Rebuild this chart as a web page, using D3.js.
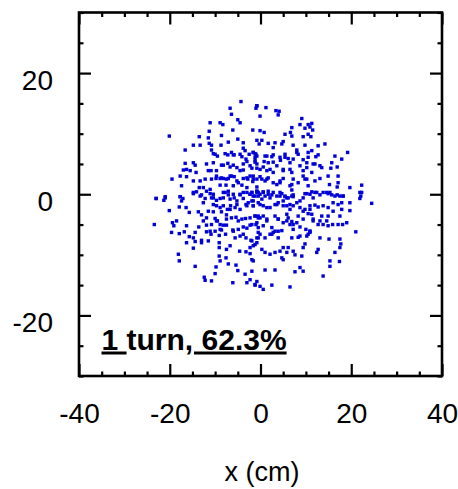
<!DOCTYPE html>
<html><head><meta charset="utf-8">
<script src="https://cdn.jsdelivr.net/npm/d3@7"></script>
<style>html,body{margin:0;padding:0;background:#fff}svg{display:block}</style>
</head><body>
<script>
// ---- data ----
const xMajorTicks = [-40, -20, 0, 20, 40];
const yMajorTicks = [-20, 0, 20];
const xDomain = [-40, 40];
const yDomain = [-30, 30];
const xTitle = "x (cm)";
const labelParts = [["1 ", true], ["turn", false], [", 62.3%", true]];
// particle positions (cm)
const points = [
[-4.3,15.3],[-0.8,14.6],[-6.7,14.2],[-6.4,13.2],[-5.0,12.3],[-4.5,11.8],[-11.1,11.8],[-8.9,11.8],[-8.3,11.5],[-20.1,9.6],[-13.5,9.5],[-11.3,10.4],[-8.6,9.7],[-6.1,10.6],[-5.0,9.1],[-11.5,9.3],[-11.3,8.4],[-7.1,8.6],[-3.8,8.5],[-14.8,8.1],[-13.3,8.1],[-10.8,8.1],[-8.7,8.1],[-16.6,7.3],[-10.8,7.3],[-10.4,6.7],[-9.5,6.3],[-7.2,6.5],[-6.4,6.9],[-5.8,6.5],[-4.5,6.6],[-3.8,7.6],[-3.4,7.2],[-1.6,6.9],[-0.8,6.3],[-1.2,5.6],[-3.2,5.8],[-3.0,5.4],[-16.6,5.1],[-14.8,5.2],[-14.4,4.8],[-16.3,4.1],[-17.0,4.0],[-15.5,3.9],[-14.2,3.6],[-11.5,3.9],[-10.9,3.9],[-9.7,3.9],[-8.2,4.8],[-7.2,5.1],[-6.0,4.8],[-4.5,3.9],[-3.8,4.0],[-0.8,4.3],[-19.5,2.5],[-17.7,3.0],[-16.3,2.9],[-14.8,2.2],[-13.3,2.2],[-12.2,2.5],[-10.8,2.5],[-9.8,2.6],[-8.9,2.6],[-8.2,2.6],[-7.1,2.6],[-6.7,3.0],[-5.8,2.9],[-5.2,2.2],[-3.8,2.6],[-2.8,2.5],[-2.3,3.0],[-1.7,2.1],[-17.4,1.4],[-13.5,1.1],[-12.6,1.1],[-11.1,0.8],[-8.9,1.5],[-7.6,1.5],[-6.0,1.4],[-4.1,1.5],[-3.0,1.1],[-0.8,1.2],[-23.0,-0.7],[-21.0,-0.6],[-17.7,-0.4],[-14.8,0.3],[-13.0,-0.1],[-10.8,-0.6],[-8.2,-0.6],[-7.1,0.5],[-4.5,0.0],[-1.9,0.3],[-0.5,-0.3],
[-0.8,14.6],[-1.0,14.2],[1.2,14.3],[3.4,13.8],[4.1,13.7],[3.9,13.1],[-0.1,12.9],[9.1,12.5],[8.7,11.5],[10.5,11.5],[11.3,11.7],[10.9,11.1],[6.9,11.0],[9.8,10.9],[-1.7,10.6],[-0.1,10.5],[0.8,10.2],[5.4,9.9],[6.6,10.2],[6.9,9.6],[11.5,10.6],[10.5,9.9],[9.4,9.5],[11.1,9.5],[-0.8,8.9],[0.3,8.9],[-0.3,8.3],[1.7,8.4],[3.2,8.5],[5.0,8.7],[4.7,8.3],[7.2,8.1],[9.8,8.1],[12.7,8.0],[14.2,8.3],[2.8,7.7],[8.0,7.3],[11.3,7.2],[10.5,6.9],[19.2,6.9],[-1.6,6.9],[-1.0,6.6],[-1.2,6.1],[1.4,6.3],[2.8,6.5],[5.4,6.6],[5.4,6.1],[8.3,6.6],[12.7,6.5],[16.4,6.3],[17.9,5.8],[15.7,5.2],[7.2,5.8],[9.4,5.7],[10.2,5.2],[12.0,5.0],[13.1,4.7],[0.8,5.4],[1.7,5.2],[2.8,5.3],[4.4,5.6],[6.5,5.2],[-1.2,5.3],[-1.9,4.3],[-0.1,4.1],[1.4,3.9],[2.8,3.6],[5.0,4.1],[6.9,3.6],[9.4,3.9],[11.3,3.6],[13.5,4.4],[15.5,4.3],[16.9,4.5],[14.9,3.0],[17.1,3.0],[13.1,2.6],[12.0,2.2],[9.4,3.0],[9.8,2.5],[7.2,2.5],[5.0,2.6],[4.3,1.9],[1.7,2.7],[1.0,2.2],[0.3,2.5],[-1.6,3.0],[-0.8,2.5],[22.3,1.5],[19.7,1.1],[17.1,1.9],[16.9,1.2],[15.2,1.6],[10.5,1.4],[6.5,1.4],[3.6,1.6],[-0.8,0.5],[-0.1,0.0],[1.7,0.5],[4.3,0.3],[5.4,-0.4],[6.9,0.7],[9.8,0.1],[12.4,0.3],[14.6,0.3],[15.7,-0.1],[16.9,-0.1],[18.2,-0.3],[22.3,0.3],[11.6,-0.6],
[-23.0,-0.7],[-21.0,-0.4],[-21.3,-1.0],[-17.7,-0.4],[-17.1,-0.7],[-17.4,-1.1],[-14.8,0.1],[-14.1,0.4],[-13.3,-0.3],[-12.2,-0.7],[-12.6,-1.4],[-11.1,0.1],[-10.4,-0.6],[-9.7,-1.0],[-8.9,-0.7],[-7.8,0.3],[-7.1,-0.1],[-6.7,-0.8],[-5.8,-0.6],[-5.2,-1.1],[-4.5,-0.1],[-3.8,-0.7],[-3.0,0.3],[-2.3,0.0],[-1.6,-0.3],[-0.8,0.3],
[-17.9,-2.1],[-16.4,-2.2],[-20.1,-2.7],[-15.7,-3.0],[-13.7,-2.9],[-11.5,-2.8],[-10.4,-2.9],[-9.7,-1.9],[-8.2,-1.9],[-7.3,-2.5],[-6.6,-1.9],[-5.6,-2.2],[-4.5,-2.5],[-3.2,-1.7],[-2.7,-1.4],[-1.6,-1.9],[-8.6,-2.9],[-7.5,-3.4],[-13.0,-3.4],[-12.6,-4.4],[-10.8,-5.0],[-11.9,-5.1],[-10.0,-4.0],[-9.5,-4.4],[-8.9,-5.0],[-8.2,-5.1],[-7.5,-5.1],[-6.4,-3.9],[-5.4,-3.8],[-4.1,-4.1],[-3.3,-4.0],[-1.2,-3.6],[-0.5,-3.9],
[-23.4,-5.0],[-19.4,-4.7],[-18.5,-4.4],[-19.1,-5.2],[-16.3,-5.2],[-13.6,-5.4],[-6.1,-5.9],[-4.9,-5.8],[-3.8,-5.4],[-3.0,-5.6],[-2.3,-5.1],[-1.0,-5.0],[-16.8,-6.2],[-17.9,-6.5],[-19.6,-6.3],[-14.4,-6.3],[-15.7,-7.0],[-14.8,-7.2],[-11.9,-6.2],[-10.9,-6.6],[-10.0,-6.1],[-9.1,-6.8],[-8.6,-5.9],[-7.7,-6.6],[-5.6,-7.2],[-4.5,-6.9],[-3.2,-7.2],[-2.1,-7.6],[-1.2,-8.3],[-0.5,-7.2],
[-16.3,-8.0],[-14.4,-7.8],[-13.0,-8.0],[-11.5,-7.7],[-14.8,-8.9],[-13.0,-7.6],[-9.1,-8.0],[-9.1,-8.8],[-7.5,-9.1],[-6.7,-8.5],[-4.6,-9.4],[-3.2,-9.5],[-2.3,-9.8],[-18.1,-9.9],[-17.9,-11.0],[-9.1,-10.2],[-8.9,-11.0],[-7.6,-10.5],[-7.1,-11.5],[-5.4,-11.7],[-5.0,-12.6],[-1.9,-10.8],[-14.4,-11.9],[-9.8,-12.0],[-10.0,-13.1],[-1.9,-12.7],[-3.4,-13.2],[-12.4,-13.7],[-12.2,-14.2],[-10.8,-14.3],[-6.1,-14.6],[-3.0,-14.6],[-1.2,-15.0],[-0.8,-14.4],
[-1.9,0.3],[-1.2,-0.3],[-0.5,0.3],[0.6,0.4],[1.0,-0.3],[1.7,0.0],[2.5,-0.1],[2.8,0.3],[3.6,-0.3],[4.7,0.1],[5.4,-0.3],[6.1,-0.6],[6.9,-0.3],[7.2,-0.1],
[9.4,-0.6],[10.2,0.1],[11.3,0.4],[12.0,0.3],[13.1,-0.1],[13.8,0.3],[14.9,0.1],[15.3,0.3],[16.4,-0.3],[17.5,-0.3],[18.2,-0.3],[21.9,0.3],[22.1,-0.3],[21.9,-0.7],
[-1.9,-1.1],[-1.6,-1.9],[-0.5,-1.4],[0.3,-0.8],[0.6,-1.9],[2.1,-2.2],[3.2,-1.7],[3.9,-1.4],[5.0,-1.1],[5.8,-1.9],[6.5,-1.7],[7.2,-1.9],[8.0,-1.4],
[9.4,-2.8],[10.9,-1.9],[12.0,-1.8],[12.7,-2.1],[13.8,-1.9],[14.9,-2.2],[16.0,-1.4],[17.1,-1.7],[17.9,-1.4],[19.7,-1.4],[24.5,-1.5],
[-1.2,-3.6],[-0.1,-3.9],[0.6,-3.6],[1.4,-4.1],[3.2,-3.6],[3.9,-4.1],[5.8,-3.3],[6.1,-3.9],[8.3,-3.6],[9.8,-2.5],[10.5,-3.2],[11.3,-3.3],[11.6,-4.1],[13.1,-4.4],[13.5,-3.6],[14.6,-4.4],[14.9,-3.6],[16.0,-2.8],[17.5,-3.6],[17.9,-2.5],[19.7,-2.7],
[-1.9,-5.0],[-0.8,-4.7],[-0.5,-5.5],[0.6,-5.2],[2.5,-5.5],[3.2,-6.1],[4.7,-6.0],[5.0,-4.7],[6.5,-5.0],[6.9,-4.5],[8.0,-4.7],[8.7,-5.4],[10.0,-5.8],[10.9,-6.1],[10.5,-6.6],
[12.7,-5.0],[13.8,-5.0],[14.9,-5.2],[15.9,-5.0],[17.1,-5.0],[18.1,-5.0],[19.0,-4.7],[21.0,-6.2],
[-1.9,-7.7],[-0.8,-7.2],[-0.1,-6.6],[1.0,-7.2],[2.5,-6.6],[2.8,-6.3],[3.9,-7.2],[6.9,-7.2],[8.3,-7.1],[9.8,-8.2],[10.2,-6.9],[10.9,-6.3],[13.1,-7.2],[15.1,-7.4],[17.5,-7.4],[17.7,-8.2],
[-2.3,-8.8],[-1.6,-8.5],[-0.8,-8.0],[0.3,-9.1],[1.0,-9.6],[2.1,-9.9],[3.2,-9.6],[4.3,-9.4],[5.0,-8.8],[6.1,-8.8],[7.2,-9.4],[9.4,-8.8],[12.7,-9.1],[12.4,-9.6],[16.4,-9.6],[17.5,-8.8],
[-1.6,-11.0],[1.0,-12.5],[3.2,-12.5],[4.7,-10.5],[5.8,-9.6],[5.0,-10.8],[7.6,-10.0],[9.1,-10.2],[7.6,-12.8],[8.7,-12.1],[9.4,-12.7],[15.3,-11.0],[15.3,-11.9],[17.4,-11.1],[13.8,-13.5],[-2.3,-14.1],[-1.2,-14.9],[-0.1,-15.2],[0.6,-15.7],[2.5,-15.0],[6.5,-15.3],
[-10.0,6.6],[-7.8,6.7],[-6.0,6.5],[-4.1,6.2],[-2.5,6.6],[-1.2,6.7],[1.0,6.3],[2.5,6.2],[4.3,6.1],[6.1,5.9],[8.0,6.9],[10.5,6.1],[12.2,6.2],
[-11.9,5.0],[-10.4,5.2],[-8.6,4.8],[-6.7,4.5],[-5.2,4.4],[-3.8,5.0],[-2.3,4.7],[-0.8,5.0],[0.6,4.5],[2.1,4.1],[3.6,4.7],[5.0,3.9],[6.5,4.1],[8.7,4.7],[10.2,4.4],[11.6,5.0],
[-9.7,3.0],[-8.6,2.7],[-7.5,2.5],[-6.4,3.0],[-4.9,1.9],[-3.0,2.7],[-1.6,2.5],[-0.1,2.9],[1.4,2.5],[2.8,1.9],[4.3,2.2],[6.9,1.6],[8.3,1.9],[10.2,2.5],
[-11.9,0.5],[-10.4,0.0],[-8.2,0.3],[-6.0,0.0],[-3.8,0.3],[-2.3,0.0],[-0.8,0.5],[0.6,0.3],[2.1,-0.6],[4.3,-0.3],[5.8,-0.6],[7.2,-0.4],[8.7,-1.1],[10.9,0.0],
[-10.4,-1.7],[-8.9,-2.2],[-6.7,-2.5],[-5.2,-1.7],[-3.0,-1.9],[-1.6,-1.1],[-0.1,-1.7],[1.4,-2.2],[3.6,-1.7],[5.0,-1.9],[6.5,-2.5],[8.7,-2.2],[10.9,-2.5],
[-11.9,-3.9],[-9.7,-4.4],[-7.5,-4.1],[-4.9,-4.4],[-2.3,-3.9],[-0.5,-3.6],[1.4,-4.4],[3.9,-4.1],[5.8,-4.4],[7.2,-5.0],[9.4,-4.1],[11.6,-4.4],
[-11.1,-6.1],[-8.9,-5.8],[-6.0,-6.1],[-3.8,-6.6],[-0.5,-6.3],[2.1,-6.6],[3.9,-6.1],[7.2,-5.8],[8.7,-6.9],[10.9,-6.1]
];

// ---- layout ----
const W = 458, H = 489;
const L = 79, R = 442, T = 12.5, B = 376;
const FONT = "'Liberation Sans', Arial, Helvetica, sans-serif";

const svg = d3.select("body").append("svg").attr("width", W).attr("height", H);
const x = d3.scaleLinear().domain(xDomain).range([L, R]);
const y = d3.scaleLinear().domain(yDomain).range([B, T]);

const xMinor = d3.range(xDomain[0], xDomain[1] + 0.001, 5).filter(v => !xMajorTicks.includes(v));
const yMinor = d3.range(yDomain[0], yDomain[1] + 0.001, 5).filter(v => !yMajorTicks.includes(v));
const fmt = d => String(d);

function styleAxis(g) {
  g.select(".domain").remove();
  g.selectAll(".tick line").attr("stroke", "#000").attr("stroke-width", 2.2);
  g.selectAll("text").attr("font-family", FONT).attr("font-size", 28).attr("fill", "#000");
}

// points
svg.append("g").selectAll("rect").data(points).join("rect")
  .attr("x", d => x(d[0]) - 1.7).attr("y", d => y(d[1]) - 1.7)
  .attr("width", 3.4).attr("height", 3.4).attr("fill", "#0000d8");

// bottom
svg.append("g").attr("transform", `translate(0,${B})`)
  .call(d3.axisBottom(x).tickValues(xMajorTicks).tickSizeInner(-12).tickSizeOuter(0).tickPadding(27).tickFormat(fmt))
  .call(styleAxis);
svg.append("g").attr("transform", `translate(0,${B})`)
  .call(d3.axisBottom(x).tickValues(xMinor).tickSizeInner(-4.5).tickSizeOuter(0).tickFormat(""))
  .call(styleAxis);
// top
svg.append("g").attr("transform", `translate(0,${T})`)
  .call(d3.axisTop(x).tickValues(xMajorTicks).tickSizeInner(-12).tickSizeOuter(0).tickFormat(""))
  .call(styleAxis);
svg.append("g").attr("transform", `translate(0,${T})`)
  .call(d3.axisTop(x).tickValues(xMinor).tickSizeInner(-4.5).tickSizeOuter(0).tickFormat(""))
  .call(styleAxis);
// left
const gl = svg.append("g").attr("transform", `translate(${L},0)`)
  .call(d3.axisLeft(y).tickValues(yMajorTicks).tickSizeInner(-12).tickSizeOuter(0).tickPadding(26).tickFormat(fmt))
  .call(styleAxis);
gl.selectAll("text").attr("dy", "0.57em");
svg.append("g").attr("transform", `translate(${L},0)`)
  .call(d3.axisLeft(y).tickValues(yMinor).tickSizeInner(-4.5).tickSizeOuter(0).tickFormat(""))
  .call(styleAxis);
// right
svg.append("g").attr("transform", `translate(${R},0)`)
  .call(d3.axisRight(y).tickValues(yMajorTicks).tickSizeInner(-12).tickSizeOuter(0).tickFormat(""))
  .call(styleAxis);
svg.append("g").attr("transform", `translate(${R},0)`)
  .call(d3.axisRight(y).tickValues(yMinor).tickSizeInner(-4.5).tickSizeOuter(0).tickFormat(""))
  .call(styleAxis);

// frame
svg.append("rect").attr("x", L).attr("y", T).attr("width", R - L).attr("height", B - T)
  .attr("fill", "none").attr("stroke", "#000").attr("stroke-width", 2.6);

// x title
svg.append("text").attr("x", 262).attr("y", 481).attr("text-anchor", "middle")
  .attr("font-family", FONT).attr("font-size", 27).attr("fill", "#000").text(xTitle);

// label
const lab = svg.append("text").attr("x", 101.5).attr("y", 349.5)
  .attr("font-family", FONT).attr("font-size", 30).attr("font-weight", "bold").attr("fill", "#000")
  .attr("xml:space", "preserve").style("white-space", "pre");
lab.selectAll("tspan").data(labelParts).join("tspan")
  .text(d => d[0]).attr("text-decoration", d => d[1] ? "underline" : "none");
</script>
</body></html>
